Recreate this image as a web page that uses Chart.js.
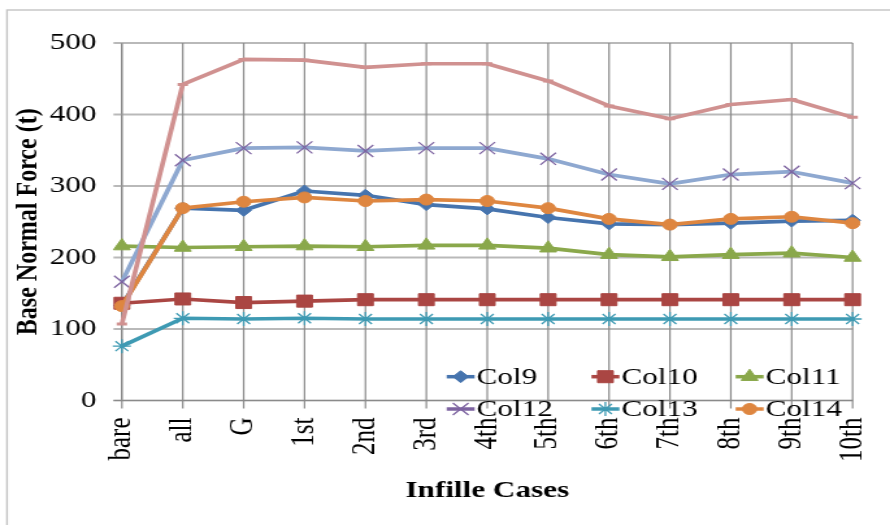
<!DOCTYPE html>
<html>
<head>
<meta charset="utf-8">
<script src="https://cdn.jsdelivr.net/npm/chart.js@4/dist/chart.umd.min.js"></script>
<style>
    html, body { margin: 0; padding: 0; background: #fff; overflow: hidden; }
    /* the original picture is stretched sideways, so draw narrow and widen it */
    #wrap { width: 685px; height: 525px; transform: scaleX(1.2993); transform-origin: 0 0; }
</style>
</head>
<body>
<div id="wrap"><canvas id="forceChart"></canvas></div>
<script>
const cases = ['bare', 'all', 'G', '1st', '2nd', '3rd', '4th', '5th', '6th', '7th', '8th', '9th', '10th'];
const col9  = [133, 269, 266, 293, 287, 274, 268, 256, 247, 246, 248, 251, 252];
const col10 = [136, 142, 137, 139, 141, 141, 141, 141, 141, 141, 141, 141, 141];
const col11 = [216, 214, 215, 216, 215, 217, 217, 213, 204, 201, 204, 206, 200];
const col12 = [166, 336, 353, 354, 349, 353, 353, 338, 316, 303, 316, 320, 304];
const col13 = [76, 115, 114, 115, 114, 114, 114, 114, 114, 114, 114, 114, 114];
const col14 = [132, 269, 278, 284, 279, 281, 279, 269, 254, 246, 254, 257, 248];
const col15 = [107, 442, 477, 476, 466, 471, 471, 447, 412, 394, 414, 421, 396];
const yTicks = [0, 100, 200, 300, 400, 500];

const serif = "'Times New Roman', 'Liberation Serif', serif";

function series(label, data, color, style, radius, extra) {
    return Object.assign({
        label: label,
        data: data,
        borderColor: color,
        backgroundColor: color,
        pointBackgroundColor: color,
        pointBorderColor: color,
        borderWidth: 3.7,
        borderJoinStyle: 'round',
        pointStyle: style,
        pointRadius: radius,
        pointBorderWidth: 1,
        tension: 0
    }, extra || {});
}

const datasets = [
    series('Col9', col9, '#4674AE', 'rectRot', 6),
    series('Col10', col10, '#AA4643', 'rect', 8.5),
    series('Col11', col11, '#8AA84B', 'triangle', 7.5),
    series('Col12', col12, '#8EA8D0', 'crossRot', 8.5, { pointBorderColor: '#7D63A0', pointBorderWidth: 1.3, legendColor: '#7D63A0' }),
    series('Col13', col13, '#3E9AB3', 'star', 7, { pointBorderWidth: 1.3 }),
    series('Col14', col14, '#DE8640', 'circle', 5.5),
    series('Col15', col15, '#D09190', 'line', 4, { pointBorderWidth: 3, hideInLegend: true })
];
// later series sit on top, as in the original
datasets.forEach((d, i) => d.order = datasets.length - i);

// legend sits inside the plot, two rows of three
const legendCols = [343.8, 455.2, 566.2];
const legendRows = [376.7, 409];

// grid and tick marks, drawn under the lines
const gridLines = {
    id: 'gridLines',
    beforeDatasetsDraw(chart) {
        const ctx = chart.ctx;
        const a = chart.chartArea;
        const x = chart.scales.x;
        const y = chart.scales.y;
        ctx.save();
        ctx.strokeStyle = '#b9b9b9';
        ctx.lineWidth = 1.8;
        yTicks.forEach(v => {
            const py = y.getPixelForValue(v);
            ctx.beginPath();
            ctx.moveTo(a.left - 6.5, py);
            ctx.lineTo(a.right, py);
            ctx.stroke();
        });
        ctx.strokeStyle = '#8a8a8a';
        ctx.lineWidth = 1.2;
        cases.forEach((c, i) => {
            const px = x.getPixelForValue(i);
            ctx.beginPath();
            ctx.moveTo(px, a.top);
            ctx.lineTo(px, a.bottom + 8);
            ctx.stroke();
        });
        ctx.beginPath();
        ctx.moveTo(a.left - 6.5, a.bottom);
        ctx.lineTo(a.right, a.bottom);
        ctx.stroke();
        ctx.restore();
    }
};

const insideLegend = {
    id: 'insideLegend',
    afterDraw(chart) {
        const ctx = chart.ctx;
        const shown = chart.data.datasets.filter(d => !d.hideInLegend);
        ctx.save();
        ctx.font = '24px ' + serif;
        ctx.textBaseline = 'middle';
        ctx.fillStyle = '#000';
        shown.forEach((d, i) => {
            const x = legendCols[i % 3];
            const y = legendRows[Math.floor(i / 3)];
            const lineColor = d.legendColor || d.borderColor;
            ctx.strokeStyle = lineColor;
            ctx.lineWidth = 3.5;
            ctx.beginPath();
            ctx.moveTo(x, y);
            ctx.lineTo(x + 21.5, y);
            ctx.stroke();
            ctx.fillStyle = d.pointBackgroundColor;
            ctx.strokeStyle = d.pointBorderColor;
            ctx.lineWidth = d.pointBorderWidth;
            Chart.helpers.drawPoint(ctx, { pointStyle: d.pointStyle, radius: d.pointRadius, rotation: 0, borderWidth: d.pointBorderWidth }, x + 10.75, y);
            ctx.fillStyle = '#000';
            ctx.fillText(d.label, x + 23, y + 1);
        });
        ctx.restore();
    }
};

const outerFrame = {
    id: 'outerFrame',
    beforeDraw(chart) {
        const ctx = chart.ctx;
        ctx.save();
        ctx.strokeStyle = '#c4c4c4';
        ctx.lineWidth = 1.4;
        ctx.strokeRect(5.4, 10, 1000, 1000);
        ctx.restore();
    }
};

new Chart(document.getElementById('forceChart'), {
    type: 'line',
    data: { labels: cases, datasets: datasets },
    options: {
        responsive: true,
        maintainAspectRatio: false,
        animation: false,
        layout: { padding: { top: 43, right: 28.8, bottom: 0, left: 0 } },
        plugins: { legend: { display: false }, tooltip: { enabled: false } },
        scales: {
            x: {
                offset: false,
                afterFit: s => { s.height = 124.5; s.paddingLeft = 0; s.paddingRight = 0; },
                grid: { color: 'rgba(0,0,0,0)', tickLength: 8 },
                border: { display: false },
                ticks: {
                    autoSkip: false, minRotation: 90, maxRotation: 90, padding: 9,
                    color: '#000', font: { family: serif, size: 25 }
                },
                title: {
                    display: true, text: 'Infille Cases', color: '#000',
                    font: { family: serif, size: 24, weight: 'bold' },
                    padding: { top: 0, bottom: 20 }
                }
            },
            y: {
                min: yTicks[0],
                max: yTicks[yTicks.length - 1],
                afterFit: s => { s.width = 93.8; s.paddingTop = 0; s.paddingBottom = 0; },
                afterBuildTicks: s => { s.ticks = yTicks.map(v => ({ value: v })); },
                grid: { color: 'rgba(0,0,0,0)', tickLength: 6.5 },
                border: { color: '#8a8a8a', width: 1.2 },
                ticks: { padding: 13, color: '#000', font: { family: serif, size: 24 } },
                title: {
                    display: true, text: 'Base Normal Force (t)', color: '#000',
                    font: { family: serif, size: 24, weight: 'bold' },
                    padding: { top: 7.5, bottom: 0 }
                }
            }
        }
    },
    plugins: [outerFrame, gridLines, insideLegend]
});
</script>
</body>
</html>
